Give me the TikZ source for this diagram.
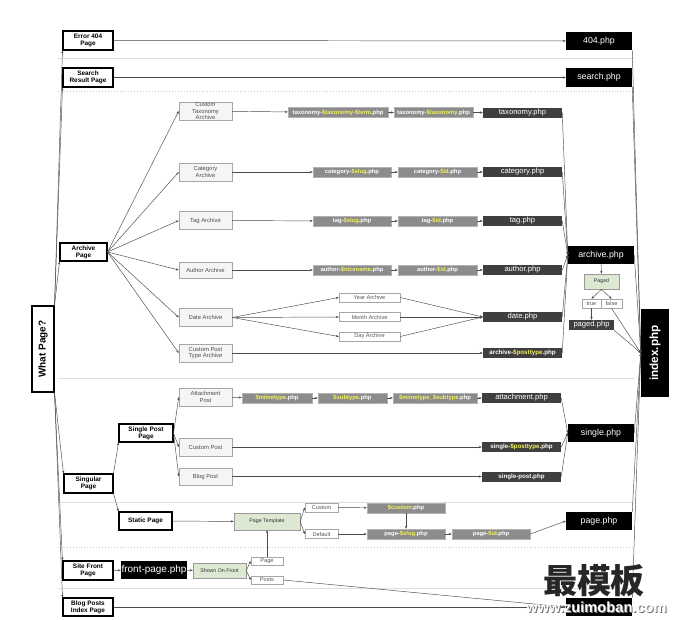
\documentclass[tikz,border=0pt]{standalone}
\usepackage{fontspec}
\setmainfont{Liberation Sans}
\newfontfamily\cjk{Noto Sans CJK SC}
\usetikzlibrary{arrows.meta}

\definecolor{filegray}{HTML}{8C8C8C}
\definecolor{darkfile}{HTML}{3F3F3F}
\definecolor{tplgreen}{HTML}{DDE8D3}
\definecolor{varyellow}{HTML}{F2F25A}
\newcommand\vname[1]{\textcolor{varyellow}{#1}}
\newcommand\txtsize[2]{\fontsize{#1}{#2}\selectfont}

\tikzset{
  wd/.style={minimum width=#1*0.03cm},
  ht/.style={minimum height=#1*0.03cm},
  base/.style={inner sep=0pt, align=center},
  pagebox/.style={base, draw=black, line width=0.9pt, fill=white, font=\bfseries\txtsize{5.5}{6}, wd=50, ht=19},
  archbox/.style={base, draw=gray!70, fill=gray!8, text=black!70, font=\txtsize{5}{5.3}, wd=53, ht=18},
  smallbox/.style={base, draw=gray!70, fill=white, text=black!65, font=\txtsize{4.8}{5}, ht=9},
  greenbox/.style={base, draw=gray!80, fill=tplgreen, text=black!80, font=\txtsize{4.5}{5}},
  filebox/.style={base, draw=gray!60, fill=filegray, text=white, font=\bfseries\txtsize{5}{5}, wd=78, ht=10},
  darkbox/.style={base, fill=darkfile, text=white, font=\txtsize{6.5}{6.5}, wd=79, ht=10},
  blackbox/.style={base, fill=black, text=white, font=\txtsize{7.5}{7.5}, wd=66, ht=18},
  link/.style={-{Stealth[length=2.5pt,width=2pt]}, draw=black!70, line width=0.4pt},
  sep/.style={draw=gray!25, line width=0.4pt},
  sepdot/.style={draw=gray!40, line width=0.5pt, dotted},
}

\begin{document}
\begin{tikzpicture}[x=0.03cm, y=-0.03cm]
  \useasboundingbox (0,0) rectangle (676,619);

  % section rules
  \draw[sep] (58,58) -- (634,58);
  \draw[sepdot] (58,91) -- (634,91);
  \draw[sep] (58,378) -- (634,378);
  \draw[sep] (58,502) -- (634,502);
  \draw[sepdot] (58,547) -- (634,547);
  \draw[sep] (58,588) -- (634,588);

  % what page and the page kinds
  \node[pagebox, font=\bfseries\txtsize{8.5}{9}, wd=22, ht=86] (what) at (43,349) {\rotatebox{90}{What Page?}};
  \node[pagebox] (err) at (88,40.5) {Error 404\\Page};
  \node[pagebox] (srch) at (88,77.5) {Search\\Result Page};
  \node[pagebox, wd=47, ht=18] (arch) at (83.5,252) {Archive\\Page};
  \node[pagebox, wd=49] (sing) at (88.5,483.5) {Singular\\Page};
  \node[pagebox, wd=54, ht=18] (spost) at (146,433) {Single Post\\Page};
  \node[pagebox, wd=53, ht=18] (stat) at (145.5,521) {Static Page};
  \node[pagebox] (front) at (88,570.5) {Site Front\\Page};
  \node[pagebox, ht=18] (blog) at (88,607) {Blog Posts\\Index Page};

  % final templates
  \node[blackbox] (f404) at (599,41) {404.php};
  \node[blackbox] (fsearch) at (599,77.5) {search.php};
  \node[blackbox] (farch) at (601,255) {archive.php};
  \node[blackbox] (fsingle) at (601,433) {single.php};
  \node[blackbox] (fpage) at (599,521) {page.php};
  \node[blackbox] (fhome) at (599,607) {};
  \node[blackbox, wd=28, ht=88, font=\bfseries\txtsize{10}{10}] (findex) at (655,353) {\rotatebox{90}{index.php}};

  % archive kinds
  \node[archbox] (ctax) at (205.5,111) {Custom\\Taxonomy\\Archive};
  \node[archbox] (cat) at (205.5,172) {Category\\Archive};
  \node[archbox] (tag) at (205.5,220.5) {Tag Archive};
  \node[archbox, ht=16] (auth) at (205.5,270) {Author Archive};
  \node[archbox] (date) at (205.5,317.5) {Date Archive};
  \node[archbox] (cpt) at (205.5,353) {Custom Post\\Type Archive};

  % taxonomy row
  \node[filebox, wd=100] (tax1) at (338,112.5) {taxonomy-\vname{\$taxonomy-\$term}.php};
  \node[filebox, wd=79] (tax2) at (433.5,112.5) {taxonomy-\vname{\$taxonomy}.php};
  \node[darkbox] (tax3) at (522.5,112.5) {taxonomy.php};
  % category row
  \node[filebox] (cat1) at (352,172) {category-\vname{\$slug}.php};
  \node[filebox, wd=79] (cat2) at (437.5,172) {category-\vname{\$id}.php};
  \node[darkbox] (cat3) at (522.5,172) {category.php};
  % tag row
  \node[filebox] (tag1) at (352,221) {tag-\vname{\$slug}.php};
  \node[filebox, wd=79] (tag2) at (437.5,221) {tag-\vname{\$id}.php};
  \node[darkbox] (tag3) at (522.5,221) {tag.php};
  % author row
  \node[filebox] (auth1) at (352,270) {author-\vname{\$nicename}.php};
  \node[filebox, wd=79] (auth2) at (437.5,270) {author-\vname{\$id}.php};
  \node[darkbox] (auth3) at (522.5,270) {author.php};
  % date row
  \node[smallbox, wd=61] (yr) at (369.5,297.5) {Year Archive};
  \node[smallbox, wd=61] (mon) at (369.5,317) {Month Archive};
  \node[smallbox, wd=61] (day) at (369.5,336.5) {Day Archive};
  \node[darkbox] (fdate) at (522.5,317) {date.php};
  % post type archive
  \node[darkbox, font=\bfseries\txtsize{5.3}{5.3}] (fcpt) at (522.5,353) {archive-\vname{\$posttype}.php};

  % paged
  \node[greenbox, wd=35, ht=15] (paged) at (601.5,281.5) {Paged};
  \node[smallbox, wd=19] (ptrue) at (591.5,303.5) {true};
  \node[smallbox, wd=21] (pfalse) at (611.5,303.5) {false};
  \node[darkbox, wd=45] (fpaged) at (591.5,325) {paged.php};

  % single posts
  \node[archbox] (att) at (205.5,397) {Attachment\\Post};
  \node[archbox] (cpost) at (205.5,447) {Custom Post};
  \node[archbox, ht=17] (bpost) at (205.5,476.5) {Blog Post};
  \node[filebox, wd=70] (m1) at (277,398) {\vname{\$mimetype}.php};
  \node[filebox, wd=69] (m2) at (352.5,398) {\vname{\$subtype}.php};
  \node[filebox, wd=84] (m3) at (435,398) {\vname{\$mimetype\_\$subtype}.php};
  \node[darkbox] (attphp) at (521.5,398) {attachment.php};
  \node[darkbox, font=\bfseries\txtsize{5.3}{5.3}] (spt) at (521.5,447) {single-\vname{\$posttype}.php};
  \node[darkbox, font=\bfseries\txtsize{5.3}{5.3}] (spp) at (521.5,476.5) {single-post.php};

  % static page
  \node[greenbox, wd=66, ht=17] (tpl) at (267,521.5) {Page Template};
  \node[smallbox, wd=33] (tcust) at (321.5,507.5) {Custom};
  \node[smallbox, wd=33] (tdef) at (321.5,534) {Default};
  \node[filebox] (cphp) at (406,508) {\vname{\$custom}.php};
  \node[filebox] (pslug) at (406,534) {page-\vname{\$slug}.php};
  \node[filebox] (pid) at (491,534) {page-\vname{\$id}.php};

  % front page
  \node[blackbox, font=\txtsize{8.5}{8.5}] (fphp) at (154,570) {front-page.php};
  \node[greenbox, wd=53, ht=15] (shown) at (219.5,570.5) {Shown On Front};
  \node[smallbox, wd=32, ht=8] (spage) at (267,561) {Page};
  \node[smallbox, wd=32, ht=8] (sposts) at (267,580) {Posts};

  % trunk
  \draw[link] (what.north east) -- (err.south west);
  \draw[link] (what.north east) -- (srch.south west);
  \draw[link] (what.north east) -- (arch.south west);
  \draw[link] (what.south east) -- (sing.north west);
  \draw[link] (what.south east) -- (front.north west);
  \draw[link] (what.south east) -- (blog.north west);
  \draw[link] (err) -- (f404);
  \draw[link] (srch) -- (fsearch);
  \draw[link] (blog) -- (fhome);

  % archive
  \draw[link] (arch.east) -- (ctax.west);
  \draw[link] (arch.east) -- (cat.west);
  \draw[link] (arch.east) -- (tag.west);
  \draw[link] (arch.east) -- (auth.west);
  \draw[link] (arch.east) -- (date.west);
  \draw[link] (arch.east) -- (cpt.west);
  \draw[link] (ctax) -- (tax1);
  \draw[link] (tax1) -- (tax2);
  \draw[link] (tax2) -- (tax3);
  \draw[link] (cat) -- (cat1);
  \draw[link] (cat1) -- (cat2);
  \draw[link] (cat2) -- (cat3);
  \draw[link] (tag) -- (tag1);
  \draw[link] (tag1) -- (tag2);
  \draw[link] (tag2) -- (tag3);
  \draw[link] (auth) -- (auth1);
  \draw[link] (auth1) -- (auth2);
  \draw[link] (auth2) -- (auth3);
  \draw[link] (date.east) -- (yr.west);
  \draw[link] (date.east) -- (mon.west);
  \draw[link] (date.east) -- (day.west);
  \draw[link] (yr.east) -- (fdate.west);
  \draw[link] (mon.east) -- (fdate.west);
  \draw[link] (day.east) -- (fdate.west);
  \draw[link] (cpt) -- (fcpt);
  \draw[link] (tax3.east) -- (farch.west);
  \draw[link] (cat3.east) -- (farch.west);
  \draw[link] (tag3.east) -- (farch.west);
  \draw[link] (auth3.east) -- (farch.west);
  \draw[link] (fdate.east) -- (farch.west);
  \draw[link] (fcpt.east) -- (farch.west);
  \draw[link] (farch) -- (paged);
  \draw[link] (paged.south) -- (ptrue.north);
  \draw[link] (paged.south) -- (pfalse.north);
  \draw[link] (ptrue) -- (fpaged);

  % singular
  \draw[link] (sing.north east) -- (spost.south west);
  \draw[link] (sing.south east) -- (stat.north west);
  \draw[link] (spost.east) -- (att.west);
  \draw[link] (spost.east) -- (cpost.west);
  \draw[link] (spost.east) -- (bpost.west);
  \draw[link] (att) -- (m1);
  \draw[link] (m1) -- (m2);
  \draw[link] (m2) -- (m3);
  \draw[link] (m3) -- (attphp);
  \draw[link] (cpost) -- (spt);
  \draw[link] (bpost) -- (spp);
  \draw[link] (attphp.east) -- (fsingle.west);
  \draw[link] (spt.east) -- (fsingle.west);
  \draw[link] (spp.east) -- (fsingle.west);

  % static and front page
  \draw[link] (stat) -- (tpl);
  \draw[link] (tpl.east) -- (tcust.west);
  \draw[link] (tpl.east) -- (tdef.west);
  \draw[link] (tcust) -- (cphp);
  \draw[link] (tdef) -- (pslug);
  \draw[link] (cphp) -- (pslug);
  \draw[link] (pslug) -- (pid);
  \draw[link] (pid.east) -- (fpage.west);
  \draw[link] (front) -- (fphp);
  \draw[link] (fphp) -- (shown);
  \draw[link] (shown.east) -- (spage.west);
  \draw[link] (shown.east) -- (sposts.west);
  \draw[link] (spage) -- (tpl);
  \draw[link] (sposts.east) -- (fhome.west);

  % into index.php
  \draw[link] (f404.south east) -- (findex.west);
  \draw[link] (fsearch.south east) -- (findex.west);
  \draw[link] (farch.east) -- (findex.west);
  \draw[link] (fpaged.south east) -- (findex.west);
  \draw[link] (pfalse.south) -- (findex.west);
  \draw[link] (fsingle.east) -- (findex.west);
  \draw[link] (fpage.north east) -- (findex.west);
  \draw[link] (fhome.north east) -- (findex.west);

  % watermark
  \node[font=\cjk\bfseries\txtsize{29}{29}, text=black!85] (wmark) at (594,581) {最模板};
  \node[font=\bfseries\txtsize{12.5}{12.5}, text=black!55] (wshadow) at (597.5,608.5) {www.zuimoban.com};
  \node[font=\bfseries\txtsize{12.5}{12.5}, text=white] (wurl) at (596.5,607.5) {www.zuimoban.com};
\end{tikzpicture}
\end{document}
